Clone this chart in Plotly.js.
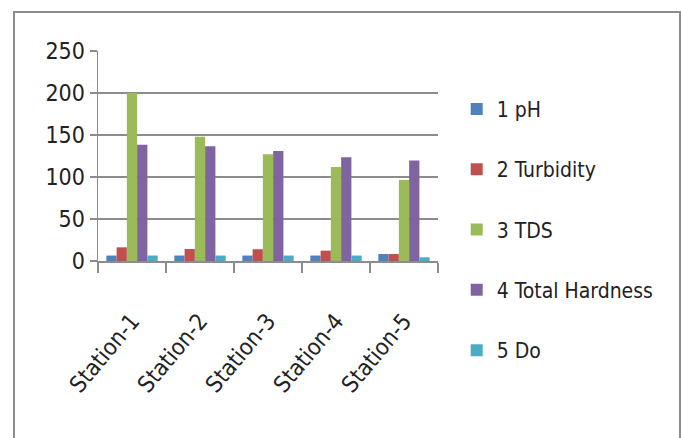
<!DOCTYPE html>
<html><head><meta charset="utf-8">
<script src="https://cdn.plot.ly/plotly-3.0.1.min.js"></script>
<style>
html,body{margin:0;padding:0;background:#fff;overflow:hidden}
#wrap{position:relative;width:681px;height:438px}
#chart{width:681px;height:438px}
#frame{position:absolute;left:13px;top:11px;width:664px;height:460px;border:2px solid #8c8c8c;pointer-events:none}
</style></head>
<body><div id="wrap"><div id="chart"></div><div id="frame"></div></div>
<script>
const stations = ["Station-1","Station-2","Station-3","Station-4","Station-5"];
const seriesNames = ["1 pH","2 Turbidity","3 TDS","4 Total Hardness","5 Do"];
const pH = [6.5, 6.5, 6.5, 6.5, 8.3];
const turbidity = [16.3, 14.3, 14, 12.3, 8.3];
const tds = [200, 148, 127, 112, 96.5];
const totalHardness = [138.5, 136.5, 131, 123.5, 119.5];
const dissolvedO = [6.5, 6.5, 6.5, 6.5, 4.4];
const colors = ["#4F81BD","#C0504D","#9BBB59","#8064A2","#4BACC6"];
const yTicks = [0, 50, 100, 150, 200, 250];

const values = [pH, turbidity, tds, totalHardness, dissolvedO];
const font = "'DejaVu Sans Condensed', 'Liberation Sans Narrow', Lato, sans-serif";
const traces = values.map((v, i) => ({
  type: "bar", x: stations, y: v, name: seriesNames[i],
  legendgroup: "g" + i,
  marker: {color: colors[i], line: {width: 0}}
}));
const layout = {
  width: 681, height: 438,
  margin: {l: 98, r: 243, t: 51, b: 177},
  paper_bgcolor: "#fff", plot_bgcolor: "#fff",
  barmode: "group", bargap: 0.245, bargroupgap: 0,
  showlegend: true,
  legend: {x: 1.055, xanchor: "left", y: 0.82, yanchor: "top", maxheight: 400,
    font: {family: font, size: 21, color: "#222"}, tracegroupgap: 30, itemwidth: 30},
  xaxis: {type: "category", tickson: "boundaries", ticks: "outside", ticklen: 10,
    tickcolor: "#8c8c8c", tickwidth: 1.5, showline: true, linecolor: "#8c8c8c", linewidth: 1.5,
    tickangle: -50, ticklabelstandoff: 36, tickfont: {family: font, size: 23, color: "#222"}, showgrid: false},
  yaxis: {range: [0, 250], tickvals: yTicks, ticks: "outside", ticklen: 7,
    tickcolor: "#8c8c8c", tickwidth: 1.5, showline: true, linecolor: "#8c8c8c", linewidth: 1.5,
    gridcolor: "#8c8c8c", gridwidth: 1.5, zeroline: false,
    tickfont: {family: font, size: 23, color: "#222"}}
};
Plotly.newPlot("chart", traces, layout, {displayModeBar: false, staticPlot: true});
</script></body></html>
